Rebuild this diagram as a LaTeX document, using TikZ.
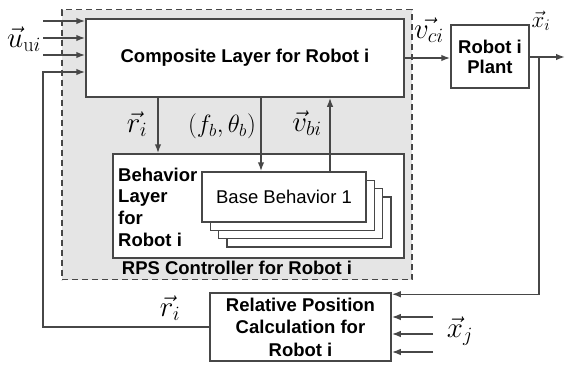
\documentclass[tikz,border=0pt]{standalone}
\usepackage{fix-cm}
\usepackage{fontspec}
\newfontfamily\sansfam{Liberation Sans}
\usetikzlibrary{arrows.meta,backgrounds}
\newcommand{\wirecolor}{black!72}
\newcommand{\framecolor}{black!10}
\newcommand{\thickness}{1.5pt}
\tikzset{
  blk/.style={draw=\wirecolor, line width=\thickness, fill=white, inner sep=0pt},
  lbl/.style={font=\sansfam\bfseries\fontsize{18.5}{21.7}\selectfont, align=center, inner sep=0pt},
  sym/.style={font=\fontsize{29}{33}\selectfont, inner sep=0pt},
  wire/.style={draw=\wirecolor, line width=\thickness, -{Latex[length=9pt,width=6.5pt]}}
}
\begin{document}
\begin{tikzpicture}[x=1pt,y=-1pt]
\useasboundingbox (0,0) rectangle (565,365);
%controller frame
\node[draw=\wirecolor, fill=\framecolor, line width=1.2pt, dash pattern=on 6pt off 4pt, minimum width=350pt, minimum height=270pt] (rps) at (237,144.5) {};
\node[lbl] (rpstxt) at (237,268) {RPS Controller for Robot i};
%blocks
\node[blk,lbl, minimum width=318pt, minimum height=78pt] (comp) at (245,58) {Composite Layer for Robot i};
\node[blk,lbl, minimum width=78pt, minimum height=63pt, font=\sansfam\bfseries\fontsize{18.5}{20}\selectfont] (plant) at (490,56.5) {Robot i\\Plant};
\node[blk, minimum width=291pt, minimum height=104pt] (beh) at (258.5,206) {};
\node[lbl, align=left, anchor=west] (behtxt) at (118,207) {Behavior\\Layer\\for\\Robot i};
\foreach \k in {3,2,1}
  \node[blk, minimum width=164pt, minimum height=50pt] (bb\k) at ({284+8.3*\k},{197+8.3*\k}) {};
\node[blk, font=\sansfam\fontsize{18.5}{21.7}\selectfont, minimum width=164pt, minimum height=50pt] (base) at (284,197) {Base Behavior 1};
\node[blk,lbl, minimum width=181pt, minimum height=68pt, font=\sansfam\bfseries\fontsize{18.5}{22.5}\selectfont] (rel) at (300.5,327) {Relative Position\\Calculation for\\Robot i};
%wire ends
\coordinate (u1) at (43,21);
\coordinate (u2) at (43,38);
\coordinate (u3) at (43,55);
\coordinate (fbk) at (43,72);
\coordinate (rdown) at (158,0);
\coordinate (fdown) at (261,0);
\coordinate (vup) at (330,0);
\coordinate (xi) at (539,57);
\coordinate (xout) at (565,57);
\coordinate (xj1) at (433,317);
\coordinate (xj2) at (433,334);
\coordinate (xj3) at (433,352);
%wires
\foreach \u in {u1,u2,u3}
  \draw[wire] (\u) -- (\u -| comp.west);
\draw[wire] (rel.west) -| (fbk) -- (fbk -| comp.west);
\draw[wire] (comp.south -| rdown) -- (beh.north -| rdown);
\draw[wire] (comp.south -| fdown) -- (base.north -| fdown);
\draw[wire] (base.north -| vup) -- (comp.south -| vup);
\draw[wire] (comp.east) -- (comp.east -| plant.west);
\draw[wire] (plant.east |- xi) -- (xout);
\draw[wire] (xi) |- ([yshift=-2pt]rel.north east);
\foreach \j in {xj1,xj2,xj3}
  \draw[wire] (\j) -- (\j -| rel.east);
%labels
\node[sym] (uui) at (24,39) {$\vec{u}_{\mathrm{u}i}$};
\node[sym] (vci) at (429,30) {$\vec{v_{ci}}$};
\node[sym, font=\fontsize{23}{27}\selectfont] (xil) at (541,21) {$\vec{x}_i$};
\node[sym] (ril) at (137,124) {$\vec{r}_i$};
\node[sym, font=\fontsize{25}{29}\selectfont] (fth) at (222,126) {$(f_b,\theta_b)$};
\node[sym] (vbi) at (307,123) {$\vec{v}_{bi}$};
\node[sym] (rib) at (170,308) {$\vec{r}_i$};
\node[sym] (xjl) at (460,331) {$\vec{x}_j$};
\end{tikzpicture}
\end{document}
